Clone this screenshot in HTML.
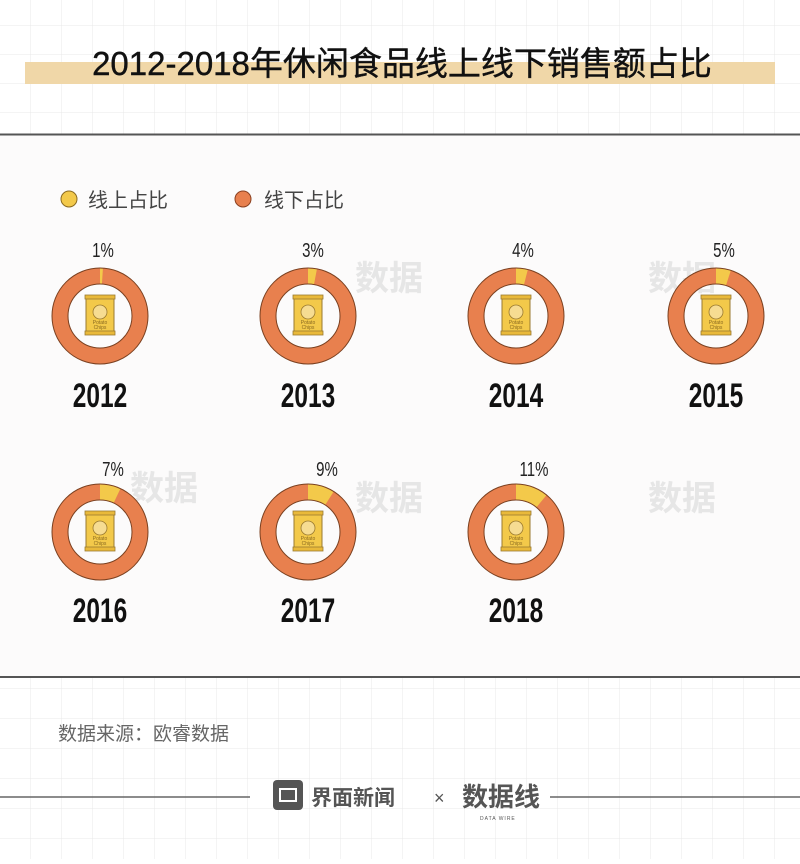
<!DOCTYPE html>
<html><head><meta charset="utf-8"><style>
body{margin:0;background:#fff}
svg text{font-family:"Liberation Sans","Noto Sans CJK SC",sans-serif}
</style></head><body>
<svg width="800" height="859" viewBox="0 0 800 859" xmlns="http://www.w3.org/2000/svg">
<defs>
<pattern id="g" x="0" y="-3" width="31" height="29" patternUnits="userSpaceOnUse">
<path d="M31 0V29M0 29H31" stroke="#e8e8e8" stroke-width="1" fill="none"/>
</pattern>
<pattern id="g2" x="0" y="688" width="31" height="30" patternUnits="userSpaceOnUse">
<path d="M31 0V30M0 0H31" stroke="#e8e8e8" stroke-width="1" fill="none"/>
</pattern>
<g id="bag">
<rect x="-14" y="-20" width="28" height="38" rx="3" fill="#f3c94a" stroke="#9a7a30" stroke-width="1"/>
<rect x="-15" y="-21" width="30" height="4" fill="#e9b93a" stroke="#9a7a30" stroke-width="0.8"/>
<rect x="-15" y="15" width="30" height="4" fill="#e9b93a" stroke="#9a7a30" stroke-width="0.8"/>
<circle cx="0" cy="-4" r="7" fill="#f6dc92" stroke="#9a7a30" stroke-width="0.8"/>
<text x="0" y="8" font-size="5" text-anchor="middle" fill="#8a6a20">Potato</text>
<text x="0" y="13" font-size="5" text-anchor="middle" fill="#8a6a20">Chips</text>
</g>
<g id="ring">
<circle r="40" fill="none" stroke="#e8804e" stroke-width="16"/>
</g>
</defs>
<rect width="800" height="134" fill="url(#g)"/>
<rect y="678" width="800" height="181" fill="url(#g2)"/>
<rect x="0" y="134" width="800" height="543" fill="#fcfbfb"/>
<rect x="25" y="62" width="750" height="22" fill="#f0d7a8"/>
<text x="402" y="75" font-size="33" text-anchor="middle" fill="#111" stroke="#111" stroke-width="0.4">2012-2018年休闲食品线上线下销售额占比</text>
<line x1="0" y1="134.5" x2="800" y2="134.5" stroke="#555" stroke-width="2"/>
<line x1="0" y1="677" x2="800" y2="677" stroke="#555" stroke-width="2"/>
<circle cx="69" cy="199" r="8" fill="#f3c94a" stroke="#8a6a20" stroke-width="1"/>
<text x="88" y="207" font-size="20" fill="#444">线上占比</text>
<circle cx="243" cy="199" r="8" fill="#e8804e" stroke="#8a4020" stroke-width="1"/>
<text x="264" y="207" font-size="20" fill="#444">线下占比</text>
<g font-size="34" fill="#e6e6e6" font-weight="bold">
<text x="355" y="290">数据</text><text x="648" y="290">数据</text><text x="355" y="510">数据</text><text x="648" y="510">数据</text><text x="130" y="500">数据</text>
</g>
<g font-size="20" fill="#222" text-anchor="middle">
<text transform="translate(103 257) scale(0.75 1)">1%</text>
<text transform="translate(313 257) scale(0.75 1)">3%</text>
<text transform="translate(523 257) scale(0.75 1)">4%</text>
<text transform="translate(724 257) scale(0.75 1)">5%</text>
<text transform="translate(113 476) scale(0.75 1)">7%</text>
<text transform="translate(327 476) scale(0.75 1)">9%</text>
<text transform="translate(534 476) scale(0.75 1)">11%</text>
</g>
<g font-size="34" font-weight="bold" fill="#111" text-anchor="middle">
<text transform="translate(100 407) scale(0.72 1)">2012</text>
<text transform="translate(308 407) scale(0.72 1)">2013</text>
<text transform="translate(516 407) scale(0.72 1)">2014</text>
<text transform="translate(716 407) scale(0.72 1)">2015</text>
<text transform="translate(100 622) scale(0.72 1)">2016</text>
<text transform="translate(308 622) scale(0.72 1)">2017</text>
<text transform="translate(516 622) scale(0.72 1)">2018</text>
</g>
<g>
<g transform="translate(100 316)"><use href="#ring"/><circle r="40" fill="none" stroke="#f3c94a" stroke-width="16" stroke-dasharray="2.5 300" transform="rotate(-90)"/><circle r="48" fill="none" stroke="#7a4020" stroke-width="1"/><circle r="32" fill="none" stroke="#7a4020" stroke-width="1"/><use href="#bag"/></g>
<g transform="translate(308 316)"><use href="#ring"/><circle r="40" fill="none" stroke="#f3c94a" stroke-width="16" stroke-dasharray="7.5 300" transform="rotate(-90)"/><circle r="48" fill="none" stroke="#7a4020" stroke-width="1"/><circle r="32" fill="none" stroke="#7a4020" stroke-width="1"/><use href="#bag"/></g>
<g transform="translate(516 316)"><use href="#ring"/><circle r="40" fill="none" stroke="#f3c94a" stroke-width="16" stroke-dasharray="10 300" transform="rotate(-90)"/><circle r="48" fill="none" stroke="#7a4020" stroke-width="1"/><circle r="32" fill="none" stroke="#7a4020" stroke-width="1"/><use href="#bag"/></g>
<g transform="translate(716 316)"><use href="#ring"/><circle r="40" fill="none" stroke="#f3c94a" stroke-width="16" stroke-dasharray="12.6 300" transform="rotate(-90)"/><circle r="48" fill="none" stroke="#7a4020" stroke-width="1"/><circle r="32" fill="none" stroke="#7a4020" stroke-width="1"/><use href="#bag"/></g>
<g transform="translate(100 532)"><use href="#ring"/><circle r="40" fill="none" stroke="#f3c94a" stroke-width="16" stroke-dasharray="17.6 300" transform="rotate(-90)"/><circle r="48" fill="none" stroke="#7a4020" stroke-width="1"/><circle r="32" fill="none" stroke="#7a4020" stroke-width="1"/><use href="#bag"/></g>
<g transform="translate(308 532)"><use href="#ring"/><circle r="40" fill="none" stroke="#f3c94a" stroke-width="16" stroke-dasharray="22.6 300" transform="rotate(-90)"/><circle r="48" fill="none" stroke="#7a4020" stroke-width="1"/><circle r="32" fill="none" stroke="#7a4020" stroke-width="1"/><use href="#bag"/></g>
<g transform="translate(516 532)"><use href="#ring"/><circle r="40" fill="none" stroke="#f3c94a" stroke-width="16" stroke-dasharray="27.6 300" transform="rotate(-90)"/><circle r="48" fill="none" stroke="#7a4020" stroke-width="1"/><circle r="32" fill="none" stroke="#7a4020" stroke-width="1"/><use href="#bag"/></g>
</g>
<text x="58" y="740" font-size="19" fill="#666">数据来源：欧睿数据</text>
<line x1="0" y1="797" x2="250" y2="797" stroke="#666" stroke-width="1.5"/>
<line x1="550" y1="797" x2="800" y2="797" stroke="#666" stroke-width="1.5"/>
<rect x="273" y="780" width="30" height="30" rx="4" fill="#555"/>
<rect x="280" y="789" width="16" height="12" fill="none" stroke="#fff" stroke-width="2"/>
<text x="311" y="805" font-size="21" font-weight="bold" fill="#555">界面新闻</text>
<text x="434" y="804" font-size="18" fill="#555">×</text>
<text x="462" y="806" font-size="26" font-weight="bold" fill="#555">数据线</text>
<text x="480" y="820" font-size="5" fill="#555" letter-spacing="1">DATA WIRE</text>
</svg>
</body></html>
